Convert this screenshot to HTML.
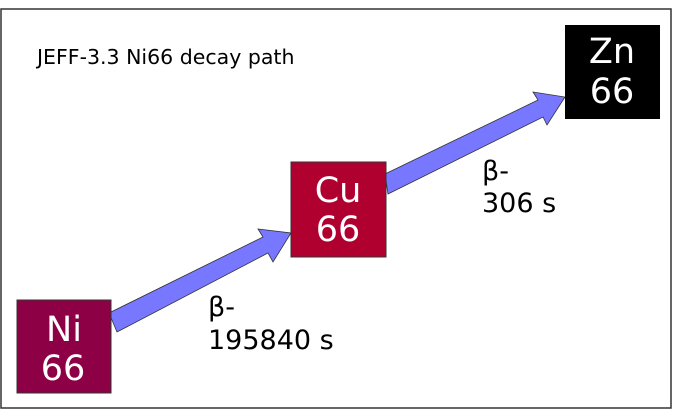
<!DOCTYPE html>
<html><head><style>
body{margin:0;background:#fff;}
svg{display:block;}
text{font-family:"DejaVu Sans","Liberation Sans",sans-serif;}
</style></head><body>
<svg width="677" height="419" viewBox="0 0 677 419" xmlns="http://www.w3.org/2000/svg">
<rect x="1" y="9" width="670" height="399" fill="#fff" stroke="#333" stroke-width="1.5"/>
<text x="37" y="64" font-size="20.5" fill="#000">JEFF-3.3 Ni66 decay path</text>
<polygon points="109,313 263,237 258,229 291,233 273,262 268,253 117,332" fill="#7777ff" stroke="#333" stroke-width="0.8"/>
<polygon points="385,174 538,100 533,92 565,97 547,125 543,117 388,194" fill="#7777ff" stroke="#333" stroke-width="0.8"/>
<rect x="17" y="300" width="94" height="93" fill="#8e0045" stroke="#333" stroke-width="1"/>
<text x="64" y="341" font-size="35" fill="#fff" text-anchor="middle">Ni</text>
<text x="63" y="380" font-size="35" fill="#fff" text-anchor="middle">66</text>
<rect x="291" y="162" width="95" height="95" fill="#b00030" stroke="#333" stroke-width="1"/>
<text x="338" y="202" font-size="35" fill="#fff" text-anchor="middle">Cu</text>
<text x="338" y="241" font-size="35" fill="#fff" text-anchor="middle">66</text>
<rect x="565" y="25" width="95" height="94" fill="#000"/>
<text x="612" y="63" font-size="35" fill="#fff" text-anchor="middle">Zn</text>
<text x="612" y="103" font-size="35" fill="#fff" text-anchor="middle">66</text>
<text x="208" y="316" font-size="27" fill="#000">β-</text>
<text x="208" y="349" font-size="27" fill="#000">195840 s</text>
<text x="482" y="180" font-size="27" fill="#000">β-</text>
<text x="482" y="212" font-size="27" fill="#000">306 s</text>
</svg>
</body></html>
